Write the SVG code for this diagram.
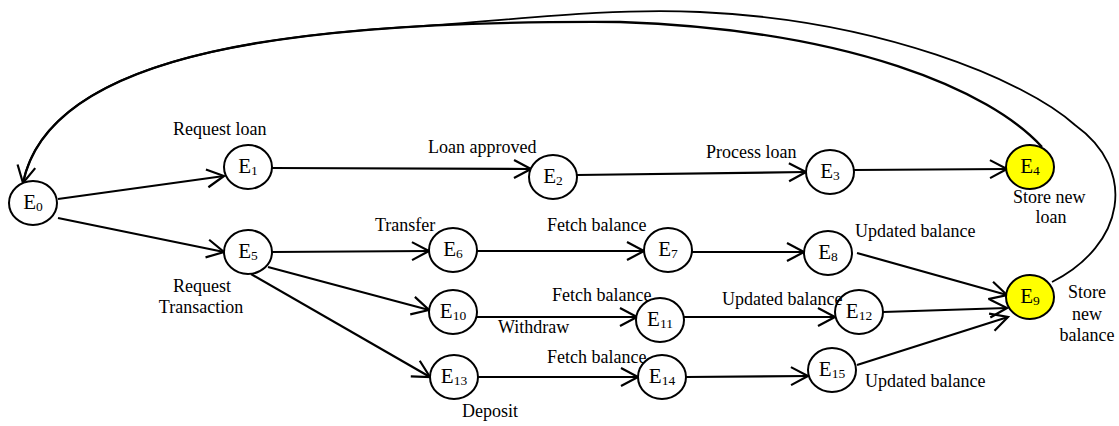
<svg xmlns="http://www.w3.org/2000/svg" width="1119" height="426" viewBox="0 0 1119 426">
  <defs>
    <marker id="arrow" markerUnits="userSpaceOnUse" markerWidth="40" markerHeight="40" refX="0" refY="0" viewBox="-20 -20 40 40" orient="auto" overflow="visible">
      <path d="M-17,-9 L0,0 L-17,9" fill="none" stroke="#000" stroke-width="2.2" stroke-linejoin="miter"/>
    </marker>
    <style>
      .node ellipse { fill: #fff; stroke: #000; stroke-width: 2; }
      .node.goal ellipse { fill: #ffff00; }
      .node text { font-family: "Liberation Serif", "Times New Roman", serif; font-size: 21px; fill: #000; text-anchor: middle; }
      .node text tspan.sub { font-size: 13.5px; }
      .edge { fill: none; stroke: #000; stroke-width: 2.2; marker-end: url(#arrow); }
      .loop { fill: none; stroke: #000; }
      .lbl { font-family: "Liberation Serif", "Times New Roman", serif; font-size: 18px; fill: #000; }
      .mid { text-anchor: middle; }
    </style>
  </defs>

  <rect width="1119" height="426" fill="#fff"/>

  <!-- connectors -->
  <g id="connectors">
    <!-- feedback loops back to E0 -->
    <path class="loop" stroke-width="1.8" d="M1052,282 C1125,245 1138,170 1075,125 C1025,80 880,20 700,12 C600,7.5 500.6,21.7 420.6,26.1 C200.8,38.2 44.1,79.3 23,183"/>
    <path class="loop" stroke-width="2.4" marker-end="url(#arrow)" d="M1042,147 C990,90 850,30 620,22 C300,20 50,50 23,183"/>

    <line class="edge" x1="58" y1="199" x2="224" y2="176"/>
    <line class="edge" x1="58" y1="218" x2="224" y2="252"/>
    <line class="edge" x1="272" y1="168" x2="531" y2="169"/>
    <line class="edge" x1="577" y1="175" x2="806" y2="172"/>
    <line class="edge" x1="854" y1="170" x2="1007" y2="169"/>
    <line class="edge" x1="272" y1="252" x2="429" y2="251"/>
    <line class="edge" x1="477" y1="251" x2="644" y2="251"/>
    <line class="edge" x1="692" y1="252" x2="804" y2="252"/>
    <line class="edge" x1="857" y1="253" x2="1007" y2="295"/>
    <line class="edge" x1="268" y1="267" x2="429" y2="310"/>
    <line class="edge" x1="477" y1="317" x2="637" y2="317"/>
    <line class="edge" x1="684" y1="317" x2="835" y2="317"/>
    <line class="edge" x1="883" y1="312" x2="1007" y2="308"/>
    <line class="edge" x1="251" y1="274" x2="430" y2="377"/>
    <line class="edge" x1="478" y1="377" x2="638" y2="377"/>
    <line class="edge" x1="686" y1="377" x2="808" y2="376"/>
    <line class="edge" x1="857" y1="365" x2="1008" y2="317"/>
  </g>

  <!-- nodes -->
  <g id="E0" class="node"><ellipse cx="33" cy="203" rx="24" ry="22"/><text x="33" y="209">E<tspan class="sub" dy="2">0</tspan></text></g>
  <g id="E1" class="node"><ellipse cx="248" cy="167" rx="24" ry="22"/><text x="248" y="173">E<tspan class="sub" dy="2">1</tspan></text></g>
  <g id="E2" class="node"><ellipse cx="553" cy="177" rx="24" ry="22"/><text x="553" y="183">E<tspan class="sub" dy="2">2</tspan></text></g>
  <g id="E3" class="node"><ellipse cx="830" cy="172" rx="24" ry="22"/><text x="830" y="178">E<tspan class="sub" dy="2">3</tspan></text></g>
  <g id="E4" class="node goal"><ellipse cx="1030" cy="167" rx="24" ry="22"/><text x="1030" y="173">E<tspan class="sub" dy="2">4</tspan></text></g>
  <g id="E5" class="node"><ellipse cx="248" cy="252" rx="24" ry="22"/><text x="248" y="258">E<tspan class="sub" dy="2">5</tspan></text></g>
  <g id="E6" class="node"><ellipse cx="453" cy="250" rx="24" ry="22"/><text x="453" y="256">E<tspan class="sub" dy="2">6</tspan></text></g>
  <g id="E7" class="node"><ellipse cx="668" cy="250" rx="24" ry="22"/><text x="668" y="256">E<tspan class="sub" dy="2">7</tspan></text></g>
  <g id="E8" class="node"><ellipse cx="828" cy="253" rx="24" ry="22"/><text x="828" y="259">E<tspan class="sub" dy="2">8</tspan></text></g>
  <g id="E9" class="node goal"><ellipse cx="1030" cy="297" rx="24" ry="22"/><text x="1030" y="303">E<tspan class="sub" dy="2">9</tspan></text></g>
  <g id="E10" class="node"><ellipse cx="453" cy="312" rx="24" ry="22"/><text x="453" y="318">E<tspan class="sub" dy="2">10</tspan></text></g>
  <g id="E11" class="node"><ellipse cx="660" cy="320" rx="24" ry="22"/><text x="660" y="326">E<tspan class="sub" dy="2">11</tspan></text></g>
  <g id="E12" class="node"><ellipse cx="859" cy="312" rx="24" ry="22"/><text x="859" y="318">E<tspan class="sub" dy="2">12</tspan></text></g>
  <g id="E13" class="node"><ellipse cx="454" cy="377" rx="24" ry="22"/><text x="454" y="383">E<tspan class="sub" dy="2">13</tspan></text></g>
  <g id="E14" class="node"><ellipse cx="662" cy="377" rx="24" ry="22"/><text x="662" y="383">E<tspan class="sub" dy="2">14</tspan></text></g>
  <g id="E15" class="node"><ellipse cx="832" cy="370" rx="24" ry="22"/><text x="832" y="376">E<tspan class="sub" dy="2">15</tspan></text></g>

  <!-- labels -->
  <g id="labels">
    <text class="lbl" x="173" y="135">Request loan</text>
    <text class="lbl mid" x="202" y="292">Request</text>
    <text class="lbl mid" x="201" y="313">Transaction</text>
    <text class="lbl" x="428" y="153">Loan approved</text>
    <text class="lbl" x="706" y="158">Process loan</text>
    <text class="lbl" x="1013" y="203">Store new</text>
    <text class="lbl mid" x="1051" y="223">loan</text>
    <text class="lbl" x="855" y="237">Updated balance</text>
    <text class="lbl" x="375" y="231">Transfer</text>
    <text class="lbl" x="547" y="231">Fetch balance</text>
    <text class="lbl" x="552" y="301">Fetch balance</text>
    <text class="lbl" x="498" y="333">Withdraw</text>
    <text class="lbl" x="722" y="305">Updated balance</text>
    <text class="lbl" x="547" y="363">Fetch balance</text>
    <text class="lbl" x="462" y="417">Deposit</text>
    <text class="lbl" x="865" y="387">Updated balance</text>
    <text class="lbl mid" x="1087" y="298">Store</text>
    <text class="lbl mid" x="1087" y="320">new</text>
    <text class="lbl mid" x="1087" y="341">balance</text>
  </g>
</svg>
